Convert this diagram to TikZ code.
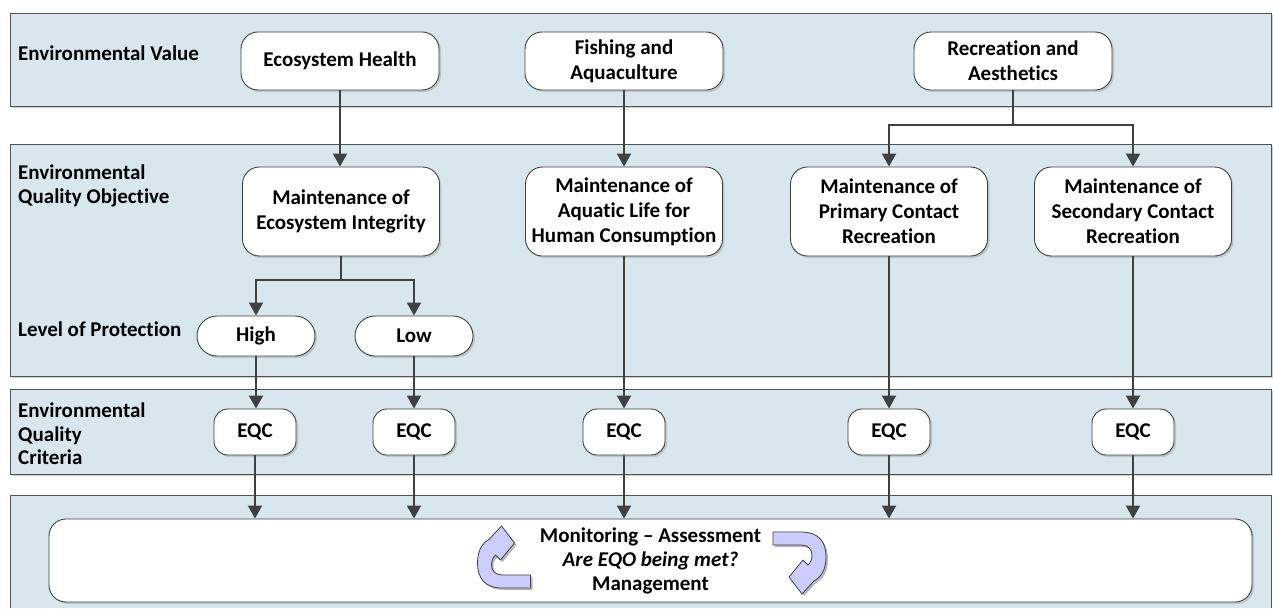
\documentclass[tikz,border=0pt]{standalone}
\usepackage{fontspec}
\setmainfont{Carlito}[Ligatures=NoCommon]
\usetikzlibrary{arrows.meta,shadows,calc}
\definecolor{bandfill}{RGB}{216,231,238}
\definecolor{linegray}{RGB}{64,64,64}
\definecolor{lav}{RGB}{204,204,255}
\tikzset{
 band/.style={fill=bandfill, draw=linegray!90, line width=1pt,
   drop shadow={shadow xshift=1.5pt, shadow yshift=-1.5pt, fill=black!30, opacity=0.6}},
 box/.style={draw=linegray, line width=0.9pt, fill=white, rounded corners=17pt, align=center,
   font=\fontsize{21}{25}\selectfont\bfseries, inner sep=0pt,
   drop shadow={shadow xshift=2pt, shadow yshift=-2pt, fill=black!35, opacity=0.5}},
 evbox/.style={box, minimum width=198pt, minimum height=58pt},
 eqobox/.style={box, minimum width=197pt, minimum height=89pt},
 lopbox/.style={box, rounded corners=20pt, minimum width=118pt, minimum height=40pt},
 eqcbox/.style={box, rounded corners=14pt, minimum width=82pt, minimum height=46pt},
 lbl/.style={anchor=west, align=left, inner sep=0pt, font=\fontsize{21}{23.5}\selectfont\bfseries},
 arr/.style={draw=linegray, line width=2pt, -{Triangle[width=14pt,length=13pt]}},
 ln/.style={draw=linegray, line width=2pt},
 curl/.style={fill=lav, draw=linegray, line width=0.8pt, line join=round,
   drop shadow={shadow xshift=2pt, shadow yshift=-2pt, fill=black!45, opacity=0.6}},
}
\begin{document}
\begin{tikzpicture}[x=1pt, y=-1pt]
\useasboundingbox (0,0) rectangle (1273,608);
% bands
\path[band] (10,13) rectangle (1271.5,106);
\path[band] (10,144) rectangle (1271.5,376);
\path[band] (10,389) rectangle (1271.5,474);
\fill[bandfill] (10,495) rectangle (1271.5,608);
\draw[linegray!90, line width=1pt] (10,608) -- (10,495) -- (1271.5,495) -- (1271.5,608);
% row labels
\node[lbl] (l1) at (18,53) {Environmental Value};
\node[lbl] (l2) at (18,186) {Environmental\\Quality Objective};
\node[lbl] (l3) at (18,329) {Level of Protection};
\node[lbl] (l4) at (18,434) {Environmental\\Quality\\Criteria};
% environmental values
\node[evbox] (eh) at (340,61) {Ecosystem Health};
\node[evbox] (fa) at (624,61) {Fishing and\\Aquaculture};
\node[evbox] (ra) at (1013,61) {Recreation and\\Aesthetics};
% EQOs
\node[eqobox] (o1) at (341,211.5) {Maintenance of\\Ecosystem Integrity};
\node[eqobox] (o2) at (624,211.5) {Maintenance of\\Aquatic Life for\\Human Consumption};
\node[eqobox] (o3) at (889,211.5) {Maintenance of\\Primary Contact\\Recreation};
\node[eqobox] (o4) at (1133,211.5) {Maintenance of\\Secondary Contact\\Recreation};
% level of protection
\node[lopbox] (hi) at (256,336) {High};
\node[lopbox] (lo) at (414,336) {Low};
% EQC
\node[eqcbox] (c1) at (255,432) {EQC};
\node[eqcbox] (c2) at (414,432) {EQC};
\node[eqcbox] (c3) at (624,432) {EQC};
\node[eqcbox] (c4) at (889,432) {EQC};
\node[eqcbox] (c5) at (1133,432) {EQC};
% monitoring box
\node[box, rounded corners=17pt, minimum width=1203pt, minimum height=83pt,
      font=\fontsize{21}{24}\selectfont\bfseries] (mon) at (650.5,560.5)
  {Monitoring -- Assessment\\\textit{Are EQO being met?}\\Management};
% connectors
\coordinate (rb) at (1013,125);
\coordinate (ib) at (341,280);
\draw[arr] (eh.south) -- (eh.south |- o1.north);
\draw[arr] (fa.south) -- (fa.south |- o2.north);
\draw[ln] (ra.south) -- (rb);
\draw[arr] (rb) -| (o3.north);
\draw[arr] (rb) -| (o4.north);
\draw[ln] (o1.south) -- (ib);
\draw[arr] (ib) -| (hi.north);
\draw[arr] (ib) -| (lo.north);
\draw[arr] (hi.south) -- (hi.south |- c1.north);
\draw[arr] (lo.south) -- (lo.south |- c2.north);
\draw[arr] (o2.south) -- (o2.south |- c3.north);
\draw[arr] (o3.south) -- (o3.south |- c4.north);
\draw[arr] (o4.south) -- (o4.south |- c5.north);
\foreach \c in {c1,c2,c3,c4,c5}{
  \draw[arr] (\c.south) -- (\c.south |- mon.north);
}
% cycle arrows
\begin{scope}[shift={(504.5,558)}]
\path[curl] (26,17) -- (26,30) -- (-2,30) .. controls (-20,30) and (-27,20) .. (-27,5)
  .. controls (-27,-8) and (-22,-15) .. (-15,-19) -- (-3,-32) -- (10,-15) -- (-4,2) -- (-9,-3)
  .. controls (-12,0) and (-13,3) .. (-13,7) .. controls (-13,13) and (-9,17) .. (-2,17) -- cycle;
\end{scope}
\begin{scope}[shift={(799,562)}]
\path[curl] (-26,-17) -- (-26,-30) -- (2,-30) .. controls (20,-30) and (27,-20) .. (27,-5)
  .. controls (27,8) and (22,15) .. (15,19) -- (3,32) -- (-10,15) -- (4,-2) -- (9,3)
  .. controls (12,0) and (13,-3) .. (13,-7) .. controls (13,-13) and (9,-17) .. (2,-17) -- cycle;
\end{scope}
\end{tikzpicture}
\end{document}
